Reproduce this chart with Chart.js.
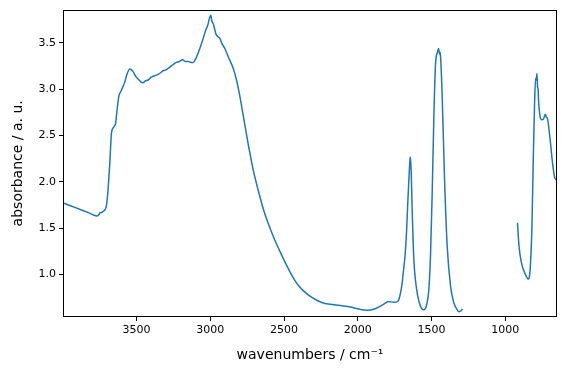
<!DOCTYPE html>
<html>
<head>
<meta charset="utf-8">
<script src="https://cdn.jsdelivr.net/npm/chart.js@4"></script>
<style>
  html, body { margin: 0; padding: 0; background: #fff; }
  #wrap { width: 566px; height: 374px; }
</style>
</head>
<body>
<div id="wrap"><canvas id="irChart"></canvas></div>
<script>
// spektrum bagian 1 (4000 - 1290 cm-1)
const waveA = [3998, 3900, 3830, 3767, 3755, 3749, 3735, 3727, 3710, 3703, 3693, 3681, 3670, 3663, 3650, 3642, 3634, 3620, 3602, 3579, 3563, 3545, 3535, 3523, 3505, 3489, 3470, 3455, 3440, 3421, 3400, 3387, 3370, 3353, 3335, 3320, 3300, 3274, 3250, 3229, 3210, 3188, 3170, 3150, 3130, 3116, 3098, 3075, 3052, 3030, 3015, 3007, 2996, 2990, 2980, 2962, 2950, 2935, 2920, 2901, 2880, 2867, 2845, 2822, 2799, 2777, 2743, 2709, 2675, 2641, 2607, 2562, 2516, 2460, 2404, 2336, 2268, 2222, 2187, 2118, 2050, 2000, 1937, 1892, 1835, 1790, 1756, 1726, 1711, 1700, 1690, 1680, 1670, 1662, 1654, 1646, 1643, 1638, 1632, 1621, 1604, 1582, 1565, 1553, 1540, 1530, 1519, 1507, 1496, 1484, 1473, 1460, 1452, 1447, 1443, 1439, 1428, 1412, 1394, 1371, 1350, 1337, 1314, 1300, 1291];
const absA = [1.773, 1.714, 1.671, 1.633, 1.645, 1.665, 1.67, 1.68, 1.71, 1.75, 1.91, 2.20, 2.52, 2.57, 2.60, 2.63, 2.74, 2.92, 2.99, 3.08, 3.17, 3.22, 3.21, 3.19, 3.14, 3.11, 3.08, 3.07, 3.09, 3.10, 3.13, 3.14, 3.15, 3.16, 3.18, 3.20, 3.21, 3.24, 3.27, 3.29, 3.30, 3.32, 3.30, 3.30, 3.29, 3.29, 3.33, 3.42, 3.53, 3.64, 3.70, 3.76, 3.80, 3.74, 3.71, 3.60, 3.57, 3.55, 3.49, 3.44, 3.36, 3.31, 3.23, 3.10, 2.92, 2.72, 2.41, 2.13, 1.91, 1.71, 1.55, 1.37, 1.21, 1.03, 0.885, 0.78, 0.715, 0.687, 0.68, 0.665, 0.65, 0.63, 0.615, 0.625, 0.67, 0.71, 0.70, 0.715, 0.80, 0.90, 1.05, 1.20, 1.45, 1.75, 2.02, 2.25, 2.27, 2.10, 1.73, 1.19, 0.87, 0.69, 0.63, 0.62, 0.64, 0.70, 0.83, 1.22, 1.87, 2.74, 3.28, 3.40, 3.44, 3.38, 3.40, 3.35, 2.92, 2.02, 1.30, 0.87, 0.70, 0.65, 0.60, 0.61, 0.63];

// spektrum bagian 2 (920 - 650 cm-1)
const waveB = [918, 907, 890, 872, 858, 845, 838, 832, 820, 811, 802, 795, 790, 786, 782, 778, 775, 766, 753, 741, 730, 722, 714, 696, 680, 664, 650];
const absB = [1.56, 1.30, 1.12, 1.03, 0.98, 0.95, 0.97, 1.05, 1.51, 2.23, 2.85, 3.12, 3.10, 3.17, 3.03, 3.00, 2.88, 2.72, 2.67, 2.68, 2.73, 2.70, 2.68, 2.45, 2.20, 2.04, 2.02];

const xTicks = [3500, 3000, 2500, 2000, 1500, 1000];
const yTicks = [1.0, 1.5, 2.0, 2.5, 3.0, 3.5];

const toPoints = (xs, ys) => xs.map((x, i) => ({ x: x, y: ys[i] }));

// kotak bingkai seperti matplotlib
const frame = {
    id: 'frame',
    afterDraw(chart) {
        const a = chart.chartArea;
        const c = chart.ctx;
        c.save();
        c.strokeStyle = '#000';
        c.lineWidth = 1;
        c.strokeRect(Math.round(a.left) + 0.5, Math.round(a.top) + 0.5,
            Math.round(a.right - a.left) - 1, Math.round(a.bottom - a.top) - 1);
        c.restore();
    }
};

const lineStyle = {
    borderColor: '#1f77b4',
    borderWidth: 1.5,
    pointRadius: 0,
    fill: false,
    cubicInterpolationMode: 'monotone'
};

const ctx = document.getElementById('irChart').getContext('2d');
const irChart = new Chart(ctx, {
    type: 'line',
    data: {
        datasets: [
            Object.assign({ label: 'A', data: toPoints(waveA, absA) }, lineStyle),
            Object.assign({ label: 'B', data: toPoints(waveB, absB) }, lineStyle)
        ]
    },
    plugins: [frame],
    options: {
        responsive: true,
        maintainAspectRatio: false,
        animation: false,
        layout: { padding: { left: 0, right: 9, top: 9, bottom: 0 } },
        plugins: {
            legend: { display: false },
            tooltip: { enabled: false }
        },
        scales: {
            x: {
                type: 'linear',
                reverse: true,
                min: 650,
                max: 3998,
                afterBuildTicks: scale => { scale.ticks = xTicks.map(v => ({ value: v })); },
                afterFit: scale => { scale.height = 57; },
                grid: { drawOnChartArea: false, drawTicks: true, tickLength: 4, color: '#000' },
                border: { display: false },
                ticks: {
                    color: '#000',
                    padding: 3,
                    maxRotation: 0,
                    font: { family: 'DejaVu Sans', size: 11 },
                    callback: v => String(v)
                },
                title: {
                    display: true,
                    text: 'wavenumbers / cm\u207B\u00B9',
                    color: '#000',
                    font: { family: 'DejaVu Sans', size: 14 },
                    padding: { top: 0, bottom: 10 }
                }
            },
            y: {
                type: 'linear',
                min: 0.542,
                max: 3.86,
                afterBuildTicks: scale => { scale.ticks = yTicks.map(v => ({ value: v })); },
                afterFit: scale => { scale.width = 63; },
                grid: { drawOnChartArea: false, drawTicks: true, tickLength: 4, color: '#000' },
                border: { display: false },
                ticks: {
                    color: '#000',
                    padding: 3,
                    font: { family: 'DejaVu Sans', size: 11 },
                    callback: v => v.toFixed(1)
                },
                title: {
                    display: true,
                    text: 'absorbance / a. u.',
                    color: '#000',
                    font: { family: 'DejaVu Sans', size: 14 },
                    padding: { top: 10, bottom: 0 }
                }
            }
        }
    }
});
</script>
</body>
</html>
